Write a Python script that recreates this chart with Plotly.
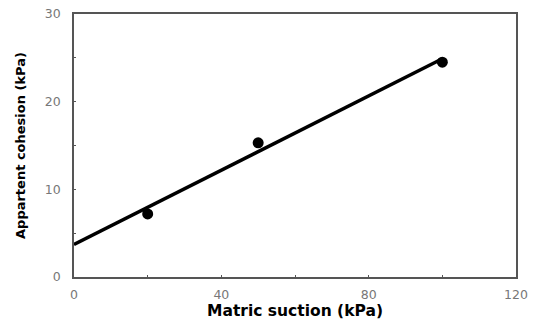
import plotly.graph_objects as go

suction = [20, 50, 100]
cohesion = [7.2, 15.3, 24.5]
fit_x = [0, 100]
fit_y = [3.7, 24.9]
x_ticks = [0, 40, 80, 120]
y_ticks = [0, 10, 20, 30]

fig = go.Figure()
fig.add_trace(go.Scatter(x=fit_x, y=fit_y, mode="lines",
                         line=dict(color="black", width=3.5), showlegend=False))
fig.add_trace(go.Scatter(x=suction, y=cohesion, mode="markers",
                         marker=dict(color="black", size=11), showlegend=False))

tick_font = dict(family="DejaVu Sans", size=12.5, color="#777777")

axis_common = dict(showline=True, linecolor="#555555", linewidth=1.5, mirror=True,
                   showgrid=False, zeroline=False, automargin=False,
                   ticks="inside", ticklen=2, tickcolor="#555555",
                   tickfont=tick_font)

fig.update_xaxes(range=[0, 120], tickvals=x_ticks, ticktext=[str(v) for v in x_ticks],
                 minor=dict(dtick=20, ticks="inside", ticklen=2, tickcolor="#555555"),
                 ticklabelstandoff=5,
                 title=dict(text="<b>Matric suction (kPa)</b>", standoff=2,
                            font=dict(family="DejaVu Sans", size=15.5, color="black")),
                 **axis_common)
fig.update_yaxes(range=[0, 30], tickvals=y_ticks, ticktext=[str(v) for v in y_ticks],
                 minor=dict(dtick=5, ticks="inside", ticklen=2, tickcolor="#555555"),
                 ticklabelstandoff=9,
                 title=dict(text="<b>Appartent cohesion (kPa)</b>", standoff=16,
                            font=dict(family="DejaVu Sans", size=13, color="black")),
                 **axis_common)

fig.update_layout(width=539, height=320, plot_bgcolor="white", paper_bgcolor="white",
                  margin=dict(l=74, r=23, t=14, b=43))

fig.write_html("out.html")
